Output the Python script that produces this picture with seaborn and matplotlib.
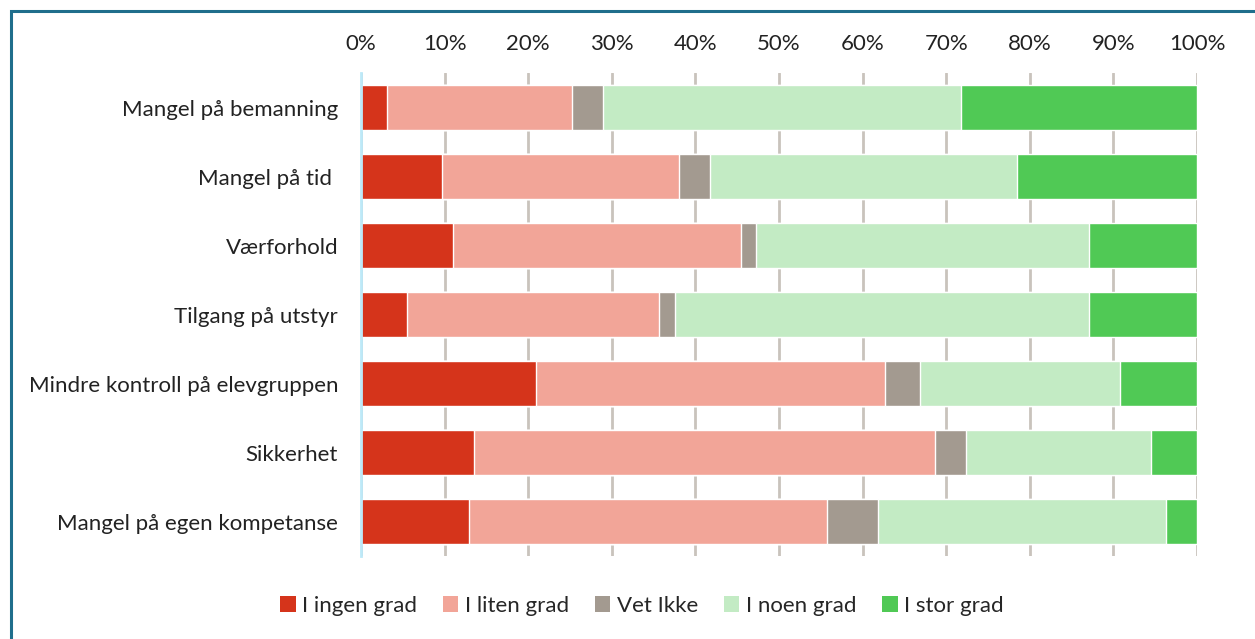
import matplotlib
matplotlib.use("Agg")
import matplotlib.pyplot as plt
from matplotlib.patches import Patch, Rectangle
import seaborn as sns
import pandas as pd
import numpy as np

categories = [
    "Mangel på bemanning",
    "Mangel på tid ",
    "Værforhold",
    "Tilgang på utstyr",
    "Mindre kontroll på elevgruppen",
    "Sikkerhet",
    "Mangel på egen kompetanse",
]
series_names = ["I ingen grad", "I liten grad", "Vet Ikke", "I noen grad", "I stor grad"]

ingen = [3.1, 9.7, 11.0, 5.5, 20.9, 13.5, 12.9]
liten = [22.1, 28.3, 34.4, 30.1, 41.8, 55.2, 42.9]
vet_ikke = [3.7, 3.7, 1.8, 1.9, 4.2, 3.7, 6.1]
noen = [42.9, 36.8, 39.9, 49.6, 23.9, 22.1, 34.4]
stor = [28.2, 21.5, 12.9, 12.9, 9.2, 5.5, 3.7]

colors = ["#D5341B", "#F2A598", "#A39A90", "#C3EBC4", "#50C955"]
tick_values = list(range(0, 101, 10))

sns.set_theme(style="white")
plt.rcParams["font.family"] = ["Lato", "DejaVu Sans"]
FS = 16

series = [ingen, liten, vet_ikke, noen, stor]
cum = np.cumsum(np.array(series), axis=0)
df = pd.DataFrame({"Kategori": categories})
for name, c in zip(series_names, cum):
    df[name] = c

fig = plt.figure(figsize=(12.55, 6.39), dpi=100)
ax = fig.add_axes([361 / 1255, 1 - 556 / 639, (1197 - 361) / 1255, (556 - 73) / 639])

# Stacked bars: draw cumulative totals from the outermost segment inward
for name, color in reversed(list(zip(series_names, colors))):
    sns.barplot(data=df, x=name, y="Kategori", color=color, orient="h",
                width=0.66, ax=ax, zorder=2, saturation=1)

ax.set_xlim(0, 100)
ax.set_xticks(tick_values)
ax.set_xticklabels([f"{v}%" for v in tick_values], fontsize=FS, color="#222222")
ax.xaxis.tick_top()
ax.tick_params(axis="x", length=0, pad=14)
ax.tick_params(axis="y", length=0, pad=16.5, labelsize=FS, labelcolor="#222222")
ax.set_xlabel("")
ax.set_ylabel("")
ax.grid(axis="x", color="#C9C3BC", linewidth=2, zorder=0)
ax.set_axisbelow(True)
for side in ["top", "right", "bottom"]:
    ax.spines[side].set_visible(False)
ax.spines["left"].set_color("#BDE9F8")
ax.spines["left"].set_linewidth(2)
ax.spines["left"].set_zorder(3)

handles = [Patch(facecolor=c, edgecolor="none") for c in colors]
fig.legend(handles, series_names, loc="center", bbox_to_anchor=(642 / 1255, 1 - 606 / 639),
           ncol=5, frameon=False, fontsize=FS, handlelength=0.7, handleheight=0.7,
           handletextpad=0.3, columnspacing=1.15)

# Outer frame around the chart area
fig.patches.append(Rectangle((11 / 1255, -0.1), 1.2, 1 - 11 / 639 + 0.1,
                             transform=fig.transFigure, fill=False,
                             edgecolor="#1F6E8C", linewidth=2.2))

fig.savefig("out.png", dpi=100)
